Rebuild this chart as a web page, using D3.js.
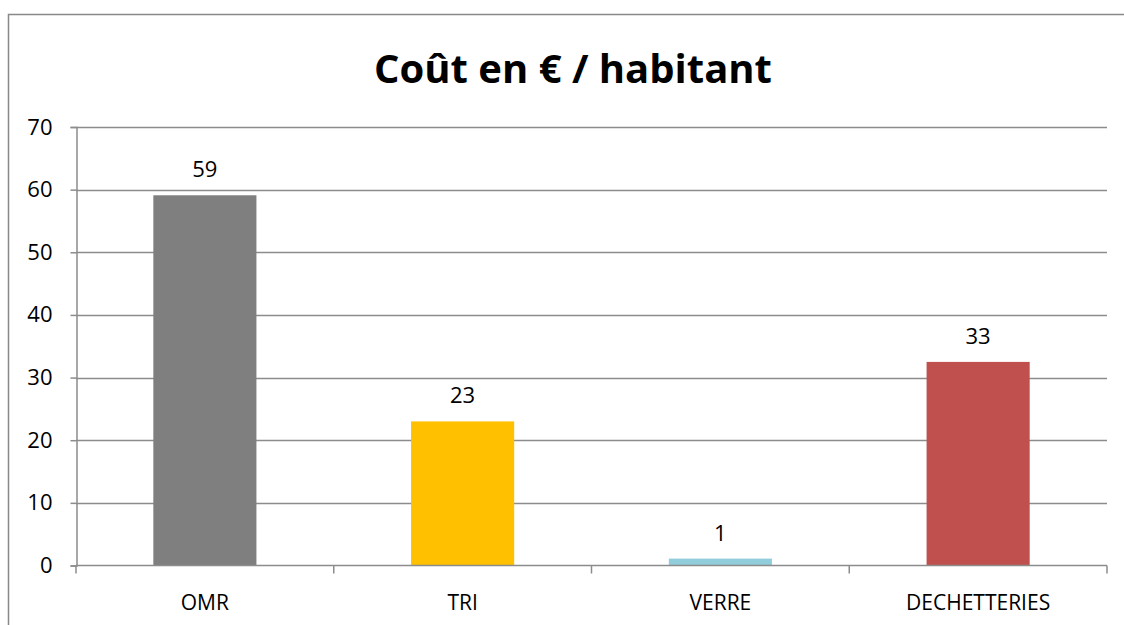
<!DOCTYPE html>
<html>
<head>
<meta charset="utf-8">
<script src="https://cdn.jsdelivr.net/npm/d3@7"></script>
<style>
  body { margin: 0; background: #fff; }
  svg { display: block; font-family: "Open Sans", "Liberation Sans", sans-serif; }
</style>
</head>
<body>
<svg id="chart" width="1124" height="625"></svg>
<script>
  var w = 1124;
  var h = 625;
  var margin = {top: 127, right: 17, bottom: 59, left: 76};

  // data
  var categories = ["OMR", "TRI", "VERRE", "DECHETTERIES"];
  var values = [59.1, 23, 1.1, 32.5];
  var labels = ["59", "23", "1", "33"];
  var colors = ["#7f7f7f", "#ffc000", "#92cddc", "#c0504d"];
  var yTicks = [0, 10, 20, 30, 40, 50, 60, 70];

  var svg = d3.select("#chart");

  // outer frame (only left and top edges visible in the original)
  svg.append("rect")
    .attr("x", 8.5).attr("y", 14.5)
    .attr("width", 1200).attr("height", 700)
    .attr("fill", "none")
    .attr("stroke", "#898989")
    .attr("stroke-width", 1.5);

  var x = d3.scaleBand()
    .domain(categories)
    .range([margin.left, w - margin.right])
    .paddingInner(0.6)
    .paddingOuter(0.3);

  var y = d3.scaleLinear()
    .domain([0, 70])
    .range([h - margin.bottom - 0.5, margin.top]);

  // gridlines
  svg.selectAll(".grid")
    .data(yTicks.slice(1))
    .enter()
    .append("line")
    .attr("class", "grid")
    .attr("x1", margin.left)
    .attr("x2", w - margin.right)
    .attr("y1", function(d){ return Math.round(y(d)) + 0.5; })
    .attr("y2", function(d){ return Math.round(y(d)) + 0.5; })
    .attr("stroke", "#8c8c8c")
    .attr("stroke-width", 1.5);

  // bars
  svg.selectAll(".bar")
    .data(values)
    .enter()
    .append("rect")
    .attr("class", "bar")
    .attr("x", function(d, i){ return x(categories[i]); })
    .attr("width", x.bandwidth())
    .attr("y", function(d){ return y(d); })
    .attr("height", function(d){ return y(0) - y(d); })
    .attr("fill", function(d, i){ return colors[i]; });

  // value labels
  svg.selectAll(".val")
    .data(values)
    .enter()
    .append("text")
    .attr("class", "val")
    .attr("x", function(d, i){ return x(categories[i]) + x.bandwidth() / 2; })
    .attr("y", function(d){ return y(d) - 18; })
    .attr("text-anchor", "middle")
    .style("font-size", "22px")
    .attr("fill", "#000")
    .text(function(d, i){ return labels[i]; });

  // y axis
  var yAxis = d3.axisLeft(y).tickValues(yTicks).tickSize(6).tickPadding(18);
  var gy = svg.append("g")
    .attr("transform", "translate(" + (margin.left + 0.5) + ",0)")
    .call(yAxis);
  gy.select(".domain").attr("stroke", "#8c8c8c").attr("stroke-width", 1.5);
  gy.selectAll(".tick line").attr("stroke", "#8c8c8c").attr("stroke-width", 1.5);
  gy.selectAll(".tick text")
    .style("font-size", "22px")
    .style("font-family", "Open Sans, Liberation Sans, sans-serif")
    .attr("fill", "#000");

  // x axis line and category separators
  var step = x.step();
  var bounds = d3.range(categories.length + 1).map(function(i){
    return margin.left + i * step;
  });
  svg.append("line")
    .attr("x1", margin.left).attr("x2", w - margin.right)
    .attr("y1", y(0)).attr("y2", y(0))
    .attr("stroke", "#8c8c8c").attr("stroke-width", 1.5);
  svg.selectAll(".xtick")
    .data(bounds)
    .enter()
    .append("line")
    .attr("class", "xtick")
    .attr("x1", function(d){ return d; })
    .attr("x2", function(d){ return d; })
    .attr("y1", y(0)).attr("y2", y(0) + 8)
    .attr("stroke", "#8c8c8c").attr("stroke-width", 1.5);

  svg.selectAll(".xlab")
    .data(categories)
    .enter()
    .append("text")
    .attr("class", "xlab")
    .attr("x", function(d){ return x(d) + x.bandwidth() / 2; })
    .attr("y", 610)
    .attr("text-anchor", "middle")
    .style("font-size", "21px")
    .attr("fill", "#000")
    .text(function(d){ return d; });

  // title
  svg.append("text")
    .attr("x", 573)
    .attr("y", 83)
    .attr("text-anchor", "middle")
    .style("font-size", "40px")
    .style("font-weight", "bold")
    .attr("fill", "#000")
    .text("Coût en € / habitant");
</script>
</body>
</html>
